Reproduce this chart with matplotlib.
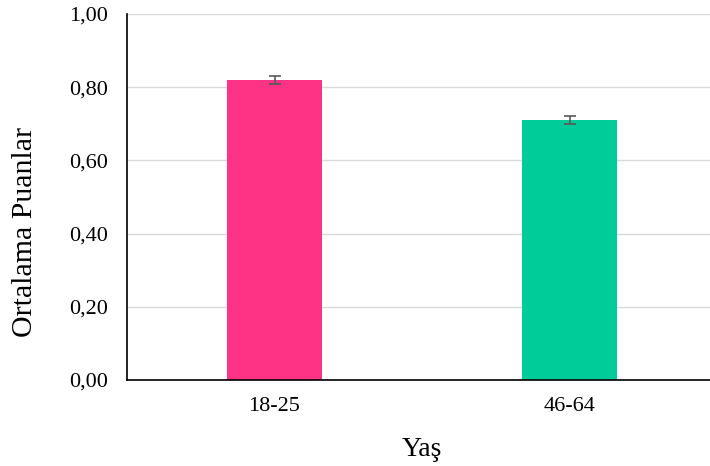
import matplotlib.pyplot as plt
import matplotlib.ticker as mticker
import numpy as np

plt.rcParams['font.family'] = ['Liberation Serif', 'DejaVu Serif']

categories = ['18-25', '46-64']
values = [0.82, 0.71]
errors = [0.011, 0.011]
colors = ['#FF3385', '#00CC99']

fig = plt.figure(figsize=(7.1, 4.66), dpi=100)
ax = fig.add_axes([127 / 710, 86 / 466, 590 / 710, 366 / 466])

x = np.arange(len(categories))
ax.bar(x, values, width=0.32, color=colors, zorder=2,
       yerr=errors, error_kw=dict(ecolor='#595959', elinewidth=1.2, capsize=4.5, capthick=1.2))

ax.set_xlim(-0.5, 1.5)
ax.set_ylim(0, 1.0)
ax.set_yticks(np.arange(0, 1.01, 0.2))
ax.yaxis.set_major_formatter(mticker.FuncFormatter(lambda v, p: f'{v:.2f}'.replace('.', ',')))
ax.set_xticks(x)
ax.set_xticklabels(categories)
ax.tick_params(axis='both', length=0, labelsize=16)
ax.tick_params(axis='y', pad=14)
ax.tick_params(axis='x', pad=12)

ax.grid(axis='y', color='#D9D9D9', linewidth=1, zorder=0)
for s in ['top', 'right']:
    ax.spines[s].set_visible(False)
for s in ['left', 'bottom']:
    ax.spines[s].set_color('black')
    ax.spines[s].set_linewidth(1.2)

ax.set_ylabel('Ortalama Puanlar', fontsize=21.5)
ax.yaxis.set_label_coords(-0.151, 0.404)
ax.set_xlabel('Yaş', fontsize=20, labelpad=15)

fig.savefig('out.png', dpi=100)
